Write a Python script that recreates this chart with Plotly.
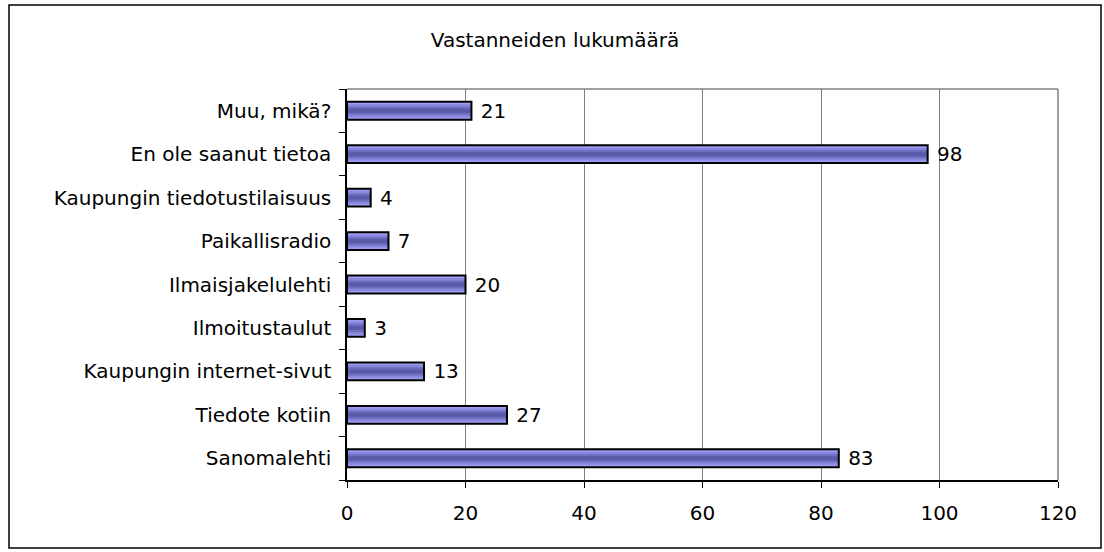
import plotly.graph_objects as go

# Data (bottom to top as in chart)
categories = [
    "Sanomalehti",
    "Tiedote kotiin",
    "Kaupungin internet-sivut",
    "Ilmoitustaulut",
    "Ilmaisjakelulehti",
    "Paikallisradio",
    "Kaupungin tiedotustilaisuus",
    "En ole saanut tietoa",
    "Muu, mikä?",
]
values = [83, 27, 13, 3, 20, 7, 4, 98, 21]
x_ticks = [0, 20, 40, 60, 80, 100, 120]
title_text = "Vastanneiden lukumäärä"

FONT = "DejaVu Sans"
BAR_W = 0.41

fig = go.Figure()

# gradient layers (outer light -> inner dark)
layers = [(1.0, "#9e9ef5"), (0.72, "#8686dc"), (0.46, "#6e6ec0"), (0.22, "#5a5aa8")]
for frac, col in layers:
    fig.add_trace(go.Bar(
        x=values, y=categories, orientation="h",
        width=BAR_W * frac,
        marker=dict(color=col, line=dict(width=0)),
        hoverinfo="skip", showlegend=False,
    ))

# border + labels
fig.add_trace(go.Bar(
    x=values, y=categories, orientation="h",
    width=BAR_W,
    marker=dict(color="rgba(0,0,0,0)", line=dict(color="black", width=2)),
    text=values, texttemplate=" %{x}", textposition="outside",
    constraintext="none",
    textfont=dict(family=FONT, size=20, color="black"),
    cliponaxis=False, showlegend=False,
))

L, R, T, B = 347, 46, 89, 72
W, H = 1104, 552
pw = W - L - R
ph = H - T - B

def px(x):
    return (x - L) / pw

def py(y):
    return (H - B - y) / ph

fig.update_layout(
    width=W, height=H,
    barmode="overlay",
    paper_bgcolor="white", plot_bgcolor="white",
    margin=dict(l=L, r=R, t=T, b=B, pad=0),
    font=dict(family=FONT, size=20, color="black"),
    title=dict(text=title_text, x=555 / W, y=1 - 40 / H,
               xanchor="center", yanchor="middle",
               font=dict(family=FONT, size=20, color="black")),
    xaxis=dict(
        range=[0, 120], tickvals=x_ticks, ticktext=[str(v) for v in x_ticks],
        showgrid=True, gridcolor="#808080", gridwidth=1,
        showline=True, linecolor="black", linewidth=1.5,
        ticks="outside", ticklen=6, tickcolor="black", tickwidth=1,
        zeroline=False, ticklabelstandoff=8,
        tickfont=dict(family=FONT, size=20, color="black"),
    ),
    yaxis=dict(
        type="category", categoryorder="array", categoryarray=categories,
        showgrid=False, showline=True, linecolor="black", linewidth=1.5,
        ticks="outside", ticklen=6, tickcolor="black", tickwidth=1,
        tickson="boundaries", ticklabelstandoff=10,
        tickfont=dict(family=FONT, size=20, color="black"),
    ),
    shapes=[
        # plot area top and right border (gray)
        dict(type="line", xref="paper", yref="paper", x0=0, x1=1, y0=1, y1=1,
             line=dict(color="#808080", width=1.5)),
        dict(type="line", xref="paper", yref="paper", x0=1, x1=1, y0=0, y1=1,
             line=dict(color="#808080", width=1.5)),
        # outer chart border
        dict(type="rect", xref="paper", yref="paper",
             x0=px(9), x1=px(1101), y0=py(548), y1=py(5),
             line=dict(color="black", width=1.5), fillcolor="rgba(0,0,0,0)"),
    ],
)

fig.write_html(
    "out.html",
    config={"displayModeBar": False},
    post_script="document.body.style.margin='0';document.body.style.overflow='hidden';",
)
